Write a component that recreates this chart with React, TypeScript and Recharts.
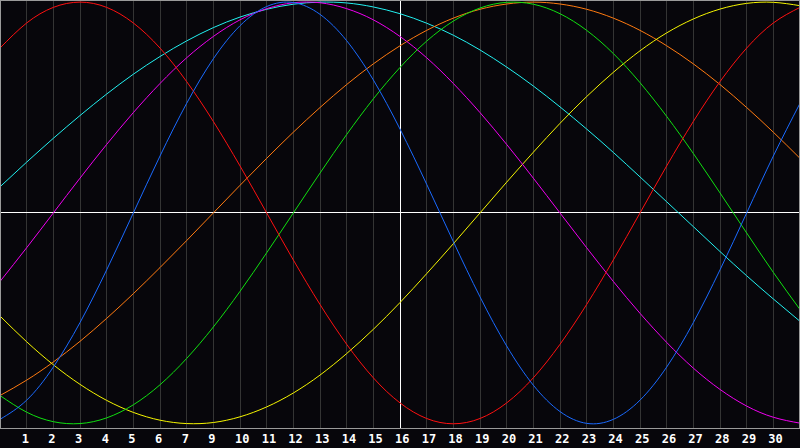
import { CartesianGrid, Line, LineChart, ReferenceLine, XAxis, YAxis } from "recharts";

// day index along the x axis (0 = left edge, 30 = right edge)
const DAYS = [0, 1, 2, 3, 4, 5, 6, 7, 8, 9, 10, 11, 12, 13, 14, 15, 16, 17, 18, 19, 20, 21, 22, 23, 24, 25, 26, 27, 28, 29, 30];

// labels under gridlines 1..29 (the chart skips "8")
const DAY_LABELS = ["1", "2", "3", "4", "5", "6", "7", "9", "10", "11", "12", "13", "14", "15", "16", "17", "18", "19", "20", "21", "22", "23", "24", "25", "26", "27", "28", "29", "30"];

const BLUE = [-0.979, -0.888, -0.731, -0.52, -0.27, 0, 0.27, 0.52, 0.731, 0.888, 0.979, 0.998, 0.942, 0.817, 0.631, 0.398, 0.136, -0.136, -0.398, -0.631, -0.817, -0.942, -0.998, -0.979, -0.888, -0.731, -0.52, -0.27, 0, 0.27, 0.52];
const RED = [0.782, 0.901, 0.975, 1.0, 0.975, 0.901, 0.782, 0.623, 0.434, 0.223, 0, -0.223, -0.434, -0.623, -0.782, -0.901, -0.975, -1.0, -0.975, -0.901, -0.782, -0.623, -0.434, -0.223, 0, 0.223, 0.434, 0.623, 0.782, 0.901, 0.975];
const GREEN = [-0.866, -0.945, -0.99, -0.999, -0.972, -0.91, -0.815, -0.69, -0.541, -0.372, -0.189, 0, 0.189, 0.372, 0.541, 0.69, 0.815, 0.91, 0.972, 0.999, 0.99, 0.945, 0.866, 0.756, 0.618, 0.458, 0.282, 0.095, -0.095, -0.282, -0.458];
const MAGENTA = [-0.325, -0.165, 0, 0.165, 0.325, 0.476, 0.614, 0.736, 0.837, 0.916, 0.969, 0.997, 0.997, 0.969, 0.916, 0.837, 0.736, 0.614, 0.476, 0.325, 0.165, 0, -0.165, -0.325, -0.476, -0.614, -0.736, -0.837, -0.916, -0.969, -0.997];
const YELLOW = [-0.489, -0.611, -0.72, -0.813, -0.889, -0.946, -0.983, -0.999, -0.994, -0.967, -0.92, -0.854, -0.769, -0.667, -0.552, -0.425, -0.288, -0.146, 0, 0.146, 0.288, 0.425, 0.552, 0.667, 0.769, 0.854, 0.92, 0.967, 0.994, 0.999, 0.983];
const ORANGE = [-0.866, -0.793, -0.707, -0.609, -0.5, -0.383, -0.259, -0.131, 0, 0.131, 0.259, 0.383, 0.5, 0.609, 0.707, 0.793, 0.866, 0.924, 0.966, 0.991, 1.0, 0.991, 0.966, 0.924, 0.866, 0.793, 0.707, 0.609, 0.5, 0.383, 0.259];
const CYAN = [0.124, 0.241, 0.354, 0.462, 0.564, 0.658, 0.742, 0.816, 0.879, 0.929, 0.966, 0.99, 1.0, 0.996, 0.977, 0.945, 0.9, 0.843, 0.773, 0.692, 0.602, 0.503, 0.398, 0.287, 0.171, 0.053, -0.065, -0.183, -0.298, -0.408, -0.514];

const SERIES = [
  { key: "cyan", values: CYAN, color: "#22f0f0" },
  { key: "orange", values: ORANGE, color: "#ff7a10" },
  { key: "yellow", values: YELLOW, color: "#f5f500" },
  { key: "magenta", values: MAGENTA, color: "#f000f0" },
  { key: "green", values: GREEN, color: "#10e010" },
  { key: "red", values: RED, color: "#ff1010" },
  { key: "blue", values: BLUE, color: "#1a6aff" },
];

const data = DAYS.map((t, i) => {
  const row: Record<string, number> = { t };
  SERIES.forEach((s) => {
    row[s.key] = s.values[i];
  });
  return row;
});

function DayTick({ x, y, payload }: any) {
  return (
    <text
      x={x - 5}
      y={y + 15}
      fill="#ffffff"
      fontSize={12}
      fontWeight="bold"
      fontFamily="DejaVu Sans Mono"
      textAnchor="start"
    >
      {DAY_LABELS[payload.value - 1]}
    </text>
  );
}

export default function App() {
  return (
    <div
      style={{
        position: "fixed",
        left: 0,
        top: 0,
        width: 800,
        height: 448,
        background: "#07060b",
      }}
    >
      <LineChart width={800} height={448} data={data} margin={{ top: 0, right: 0, bottom: 0, left: 0 }}>
        <CartesianGrid horizontal={false} stroke="#343434" shapeRendering="crispEdges" />
        <XAxis
          dataKey="t"
          type="number"
          domain={[0, 30]}
          ticks={DAYS.slice(1, 30)}
          height={20}
          tickSize={0}
          tickMargin={0}
          interval={0}
          axisLine={{ stroke: "#9a9a9a", shapeRendering: "crispEdges" }}
          tick={<DayTick />}
        />
        <YAxis hide domain={[-1.02, 1.01]} />
        <ReferenceLine x={15} stroke="#ffffff" shapeRendering="crispEdges" />
        <ReferenceLine y={0} stroke="#ffffff" shapeRendering="crispEdges" />
        {SERIES.map((s) => (
          <Line
            key={s.key}
            dataKey={s.key}
            type="natural"
            stroke={s.color}
            strokeWidth={1}
            dot={false}
            activeDot={false}
            isAnimationActive={false}
          />
        ))}
      </LineChart>
      <div
        style={{
          position: "absolute",
          left: 0,
          top: 0,
          width: 800,
          height: 429,
          boxSizing: "border-box",
          border: "1px solid #9a9a9a",
          borderBottom: "none",
          pointerEvents: "none",
        }}
      />
    </div>
  );
}
